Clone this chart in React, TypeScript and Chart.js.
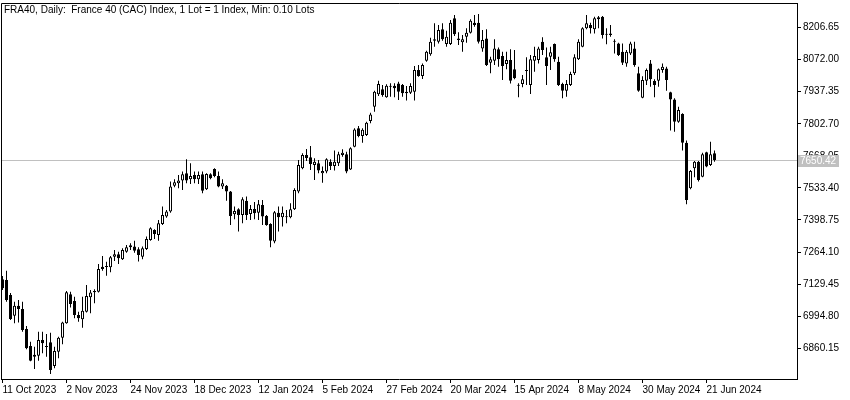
import React, { useEffect, useRef } from "react";
import { Chart, registerables } from "chart.js";

Chart.register(...registerables);

const TITLE = "FRA40, Daily:  France 40 (CAC) Index, 1 Lot = 1 Index, Min: 0.10 Lots";

const DATE_LABELS = [
  "11 Oct 2023", "2 Nov 2023", "24 Nov 2023", "18 Dec 2023", "12 Jan 2024", "5 Feb 2024",
  "27 Feb 2024", "20 Mar 2024", "15 Apr 2024", "8 May 2024", "30 May 2024", "21 Jun 2024",
];
const BARS_PER_LABEL = 16;

const Y_TICKS = [6860.15, 6994.8, 7129.45, 7264.1, 7398.75, 7533.4, 7668.05, 7802.7, 7937.35, 8072.0, 8206.65];
const Y_MIN = 6731.4;
const Y_MAX = 8309.5;

const OPEN = [
  7150, 7147, 7084, 6997, 7039, 7025, 6941, 6870, 6825, 6829, 6895, 6869, 6886, 6786, 6846, 6905,
  6965, 7087, 7059, 7000, 6982, 7014, 7074, 7096, 7098, 7203, 7201, 7200, 7245, 7255, 7234, 7266,
  7284, 7287, 7276, 7245, 7277, 7315, 7357, 7336, 7382, 7413, 7434, 7543, 7553, 7564, 7595, 7570,
  7588, 7570, 7591, 7528, 7591, 7613, 7583, 7539, 7542, 7518, 7423, 7444, 7420, 7480, 7424, 7445,
  7429, 7462, 7416, 7382, 7308, 7429, 7410, 7412, 7410, 7444, 7518, 7616, 7672, 7662, 7630, 7637,
  7595, 7602, 7643, 7625, 7637, 7672, 7675, 7611, 7706, 7784, 7751, 7756, 7814, 7874, 7926, 7947,
  7914, 7958, 7962, 7972, 7965, 7937, 7933, 7937, 8028, 8003, 8067, 8094, 8157, 8147, 8199, 8137,
  8137, 8245, 8161, 8145, 8168, 8185, 8227, 8227, 8119, 8161, 8059, 8067, 8115, 8087, 8053, 8070,
  8031, 7965, 7970, 8028, 7965, 8067, 8070, 8147, 8082, 8084, 8137, 8063, 7970, 7941, 7965, 8015,
  8073, 8126, 8203, 8217, 8199, 8241, 8252, 8176, 8182, 8149, 8140, 8105, 8056, 8098, 8119, 8015,
  7912, 7983, 8056, 7982, 7983, 8028, 8035, 7935, 7905, 7811, 7844, 7723, 7532, 7616, 7643, 7580,
  7683, 7630, 7679,
];
const HIGH = [
  7164, 7186, 7092, 7056, 7063, 7056, 6954, 6888, 6867, 6930, 6930, 6920, 6926, 6867, 6909, 6972,
  7101, 7098, 7077, 7014, 7077, 7126, 7105, 7108, 7214, 7248, 7224, 7248, 7273, 7266, 7280, 7294,
  7301, 7312, 7284, 7287, 7329, 7368, 7360, 7399, 7455, 7441, 7560, 7570, 7588, 7602, 7654, 7637,
  7602, 7602, 7602, 7595, 7595, 7616, 7602, 7570, 7546, 7520, 7455, 7448, 7494, 7497, 7462, 7474,
  7483, 7483, 7420, 7385, 7437, 7455, 7455, 7441, 7469, 7532, 7651, 7679, 7697, 7709, 7658, 7651,
  7623, 7658, 7654, 7690, 7685, 7696, 7685, 7704, 7784, 7793, 7784, 7811, 7849, 7941, 7983, 7965,
  7968, 7973, 7973, 7979, 7970, 7961, 7973, 8045, 8049, 8056, 8109, 8164, 8224, 8217, 8224, 8193,
  8238, 8259, 8187, 8175, 8203, 8241, 8259, 8263, 8196, 8199, 8084, 8157, 8123, 8105, 8105, 8115,
  8112, 7973, 8007, 8082, 8091, 8126, 8126, 8166, 8123, 8126, 8140, 8084, 7975, 7986, 8021, 8094,
  8157, 8208, 8259, 8227, 8252, 8255, 8255, 8203, 8217, 8157, 8143, 8140, 8112, 8147, 8147, 8042,
  8002, 8035, 8070, 7989, 8035, 8056, 8042, 7937, 7910, 7874, 7847, 7732, 7609, 7646, 7646, 7681,
  7685, 7727, 7690,
];
const LOW = [
  7105, 7056, 6979, 6965, 6969, 6930, 6856, 6806, 6773, 6808, 6839, 6825, 6752, 6776, 6818, 6877,
  6963, 7032, 6986, 6972, 6947, 7011, 7007, 7049, 7094, 7186, 7165, 7179, 7227, 7214, 7231, 7261,
  7273, 7261, 7225, 7234, 7273, 7312, 7319, 7312, 7378, 7408, 7429, 7536, 7532, 7525, 7553, 7550,
  7553, 7550, 7511, 7525, 7570, 7578, 7536, 7529, 7480, 7378, 7402, 7350, 7385, 7399, 7399, 7402,
  7399, 7378, 7375, 7284, 7301, 7350, 7371, 7385, 7406, 7441, 7511, 7612, 7646, 7609, 7567, 7595,
  7555, 7595, 7609, 7606, 7625, 7664, 7595, 7609, 7704, 7746, 7723, 7751, 7805, 7853, 7919, 7916,
  7912, 7916, 7914, 7902, 7916, 7900, 7928, 7900, 8000, 7990, 8063, 8088, 8126, 8140, 8151, 8126,
  8133, 8171, 8133, 8105, 8143, 8182, 8210, 8140, 8105, 8045, 8015, 8049, 8042, 7986, 8031, 7972,
  7989, 7914, 7956, 7965, 7928, 8021, 8056, 8091, 7965, 8028, 8063, 7961, 7910, 7916, 7961, 8007,
  8070, 8124, 8199, 8182, 8182, 8203, 8161, 8136, 8168, 8098, 8087, 8049, 8042, 8091, 8042, 7937,
  7910, 7965, 7958, 7914, 7958, 8017, 7941, 7774, 7769, 7807, 7690, 7465, 7528, 7578, 7560, 7578,
  7620, 7625, 7643,
];
const CLOSE = [
  7112, 7063, 6983, 7039, 7025, 6937, 6860, 6808, 6833, 6895, 6881, 6866, 6769, 6849, 6905, 6969,
  7095, 7046, 7000, 6986, 7018, 7080, 7094, 7101, 7193, 7193, 7203, 7242, 7255, 7238, 7273, 7284,
  7293, 7270, 7252, 7280, 7319, 7364, 7340, 7385, 7420, 7434, 7539, 7557, 7564, 7591, 7564, 7583,
  7570, 7588, 7522, 7592, 7574, 7583, 7539, 7553, 7518, 7416, 7437, 7420, 7486, 7420, 7445, 7427,
  7465, 7413, 7378, 7312, 7431, 7410, 7429, 7410, 7444, 7525, 7630, 7672, 7659, 7634, 7643, 7606,
  7604, 7654, 7625, 7643, 7675, 7681, 7602, 7700, 7779, 7751, 7777, 7807, 7842, 7937, 7970, 7923,
  7962, 7961, 7952, 7937, 7931, 7931, 7961, 8028, 8003, 8049, 8105, 8147, 8151, 8196, 8157, 8168,
  8227, 8178, 8154, 8157, 8185, 8235, 8217, 8147, 8154, 8049, 8073, 8119, 8073, 8045, 8070, 7983,
  7994, 7962, 7989, 8024, 8073, 8087, 8119, 8112, 8045, 8103, 8073, 7965, 7941, 7970, 8012, 8082,
  8147, 8203, 8224, 8203, 8245, 8250, 8175, 8178, 8175, 8147, 8091, 8059, 8105, 8140, 8049, 7941,
  7986, 8028, 7989, 7965, 8031, 8042, 7986, 7905, 7811, 7860, 7723, 7483, 7604, 7643, 7567, 7675,
  7623, 7675, 7650.42,
];

const FONT = "'Liberation Sans', Arial, sans-serif";
const FONT_SIZE = 10;

export default function App() {
  const ref = useRef<HTMLCanvasElement>(null);

  useEffect(() => {
    if (!ref.current) return;
    const n = CLOSE.length;
    const idx = CLOSE.map((_, i) => i);
    const bodies = idx.map((i) => ({ x: i, y: [OPEN[i], CLOSE[i]] }));
    const wicks = idx.map((i) => ({ x: i, y: [LOW[i], HIGH[i]] }));
    const fills = idx.map((i) => (CLOSE[i] >= OPEN[i] ? "#ffffff" : "#000000"));
    const last = CLOSE[n - 1];

    const overlay = {
      id: "mtOverlay",
      beforeDatasetsDraw(chart: any) {
        const { ctx, chartArea, scales } = chart;
        const py = Math.round(scales.y.getPixelForValue(last)) + 0.5;
        ctx.save();
        ctx.strokeStyle = "#c0c0c0";
        ctx.lineWidth = 1;
        ctx.beginPath();
        ctx.moveTo(chartArea.left, py);
        ctx.lineTo(chartArea.right, py);
        ctx.stroke();
        ctx.restore();
      },
      afterDraw(chart: any) {
        const { ctx, chartArea, scales } = chart;
        ctx.save();
        ctx.strokeStyle = "#000";
        ctx.lineWidth = 1;
        ctx.beginPath();
        ctx.moveTo(chartArea.left + 0.5, chartArea.bottom);
        ctx.lineTo(chartArea.left + 0.5, chartArea.top + 0.5);
        ctx.lineTo(chartArea.right + 1, chartArea.top + 0.5);
        ctx.stroke();
        ctx.fillStyle = "#000";
        ctx.font = `${FONT_SIZE}px ${FONT}`;
        ctx.textBaseline = "middle";
        ctx.textAlign = "left";
        ctx.fillText(TITLE, 4, 10);
        const py = Math.round(scales.y.getPixelForValue(last));
        ctx.fillStyle = "#c0c0c0";
        ctx.fillRect(chartArea.right + 1, py - 5, 41, 12);
        ctx.fillStyle = "#ffffff";
        ctx.fillText(last.toFixed(2), chartArea.right + 3, py + 1);
        ctx.restore();
      },
    };

    const chart = new Chart(ref.current, {
      type: "bar",
      data: {
        datasets: [
          {
            data: bodies as any,
            backgroundColor: fills,
            borderColor: "#000000",
            borderWidth: 1,
            borderSkipped: false,
            barThickness: 3,
            grouped: false,
            inflateAmount: 0,
            minBarLength: 1,
          } as any,
          {
            data: wicks as any,
            backgroundColor: "#000000",
            borderWidth: 0,
            barThickness: 1,
            grouped: false,
            inflateAmount: 0,
          } as any,
        ],
      },
      options: {
        responsive: false,
        animation: false,
        events: [],
        layout: { padding: { left: 1, top: 3, right: 0, bottom: 0 } },
        plugins: {
          legend: { display: false },
          tooltip: { enabled: false },
          title: { display: false },
        },
        scales: {
          x: {
            type: "linear",
            min: -0.375,
            max: 198.625,
            offset: false,
            afterFit(s: any) {
              s.height = 21;
              s.paddingLeft = 0;
              s.paddingRight = 0;
            },
            afterBuildTicks(s: any) {
              s.ticks = DATE_LABELS.map((_, k) => ({ value: k * BARS_PER_LABEL }));
            },
            grid: {
              display: true,
              offset: false,
              drawOnChartArea: false,
              drawTicks: true,
              tickLength: 4,
              color: "#000000",
              lineWidth: 1,
            },
            border: { display: true, color: "#000000", width: 1 },
            ticks: {
              autoSkip: false,
              maxRotation: 0,
              minRotation: 0,
              align: "start",
              padding: 1,
              color: "#000000",
              font: { family: FONT, size: FONT_SIZE },
              callback: (v: any) => DATE_LABELS[Math.round(Number(v) / BARS_PER_LABEL)] ?? "",
            },
          } as any,
          y: {
            type: "linear",
            position: "right",
            min: Y_MIN,
            max: Y_MAX,
            beginAtZero: false,
            afterFit(s: any) {
              s.width = 53;
              s.paddingTop = 0;
              s.paddingBottom = 0;
            },
            afterBuildTicks(s: any) {
              s.ticks = Y_TICKS.map((v) => ({ value: v }));
            },
            grid: {
              display: true,
              drawOnChartArea: false,
              drawTicks: true,
              tickLength: 4,
              color: "#000000",
              lineWidth: 1,
            },
            border: { display: true, color: "#000000", width: 1 },
            ticks: {
              padding: 2,
              color: "#000000",
              font: { family: FONT, size: FONT_SIZE },
              callback: (v: any) => Number(v).toFixed(2),
            },
          } as any,
        },
      },
      plugins: [overlay],
    });
    return () => chart.destroy();
  }, []);

  return (
    <canvas
      ref={ref}
      width={850}
      height={400}
      style={{ position: "fixed", left: 0, top: 0, display: "block", background: "#ffffff" }}
    />
  );
}
